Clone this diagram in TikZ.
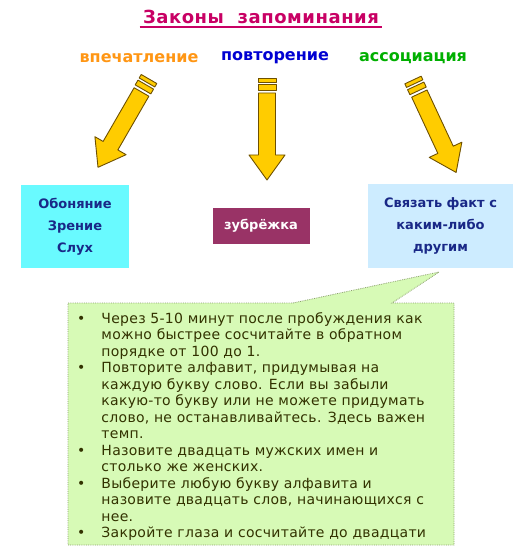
\documentclass[tikz,border=0pt]{standalone}
\usepackage{fontspec}
\setmainfont{DejaVu Sans}
\usetikzlibrary{positioning}
\definecolor{titlecol}{RGB}{200,0,100}
\definecolor{impcol}{RGB}{255,150,20}
\definecolor{repcol}{RGB}{0,0,210}
\definecolor{asscol}{RGB}{0,175,0}
\definecolor{boxtext}{RGB}{25,40,135}
\definecolor{cyanbox}{RGB}{105,250,255}
\definecolor{bluebox}{RGB}{205,236,255}
\definecolor{plumbox}{RGB}{153,51,102}
\definecolor{notefill}{RGB}{215,250,182}
\definecolor{noteedge}{RGB}{140,160,110}
\definecolor{notetext}{RGB}{50,50,0}
\definecolor{arrowfill}{RGB}{255,204,0}
\definecolor{arrowedge}{RGB}{110,80,0}
\tikzset{
  arrowline/.style={draw=arrowedge,fill=arrowfill,line width=0.9,line join=round},
  pics/pencilarrow/.style={code={
    \path[arrowline] (-9,0) rectangle (9,4);
    \path[arrowline] (-9,6.5) rectangle (9,12);
    \path[arrowline] (-8.5,15) -- (-8.5,77) -- (-18,77) -- (0,102) -- (18,77) -- (8.5,77) -- (8.5,15) -- cycle;
  }},
  lawlabel/.style={font=\fontsize{16}{18}\selectfont\bfseries},
  factbox/.style={inner sep=0,align=center,text=boxtext,font=\fontsize{13}{22}\selectfont\bfseries},
}
\begin{document}
\begin{tikzpicture}[x=1pt,y=-1pt]
\useasboundingbox (0,0) rectangle (527,556);
% title
\node[text=titlecol,font=\fontsize{18}{20}\selectfont\bfseries\addfontfeatures{LetterSpace=3}] (title) at (261,17) {Законы\ \ запоминания};
\draw[titlecol,line width=1.8] ([yshift=-3.5pt]title.base west) -- ([yshift=-3.5pt]title.base east);
% three laws
\node[lawlabel,text=impcol] (imp) at (139,58) {впечатление};
\node[lawlabel,text=repcol] (rep) at (275,58) {повторение};
\node[lawlabel,text=asscol] (ass) at (413,58) {ассоциация};
% arrows
\pic[rotate=-30] at (149,79) {pencilarrow};
\pic at (267,78) {pencilarrow};
\pic[rotate=25] at (413,80) {pencilarrow};
% boxes
\node[factbox,fill=cyanbox,minimum width=108,minimum height=83] (senses) at (75,226.5) {Обоняние\\Зрение\\Слух};
\node[factbox,fill=plumbox,text=white,minimum width=97,minimum height=36] (cram) at (261,226) {зубрёжка};
\node[factbox,fill=bluebox,minimum width=145,minimum height=84] (link) at (440.5,226) {Связать факт с\\каким-либо\\другим};
% callout
\path[fill=notefill,draw=noteedge,densely dotted,line width=0.8]
  (68,303) -- (293,303) -- (439,272) -- (392,303) -- (454,303) -- (454,545) -- (68,545) -- cycle;
\node[anchor=north west,inner sep=0,text=notetext,font=\fontsize{14}{16.5}\selectfont\addfontfeatures{LetterSpace=2}] (tips) at (77,311.5) {%
\begin{tabular}{@{}l@{\hspace{16pt}}l@{}}
\textbullet & Через 5-10 минут после пробуждения как\\
 & можно быстрее сосчитайте в обратном\\
 & порядке от 100 до 1.\\
\textbullet & Повторите алфавит, придумывая на\\
 & каждую букву слово. Если вы забыли\\
 & какую-то букву или не можете придумать\\
 & слово, не останавливайтесь. Здесь важен\\
 & темп.\\
\textbullet & Назовите двадцать мужских имен и\\
 & столько же женских.\\
\textbullet & Выберите любую букву алфавита и\\
 & назовите двадцать слов, начинающихся с\\
 & нее.\\
\textbullet & Закройте глаза и сосчитайте до двадцати
\end{tabular}};
\end{tikzpicture}
\end{document}
